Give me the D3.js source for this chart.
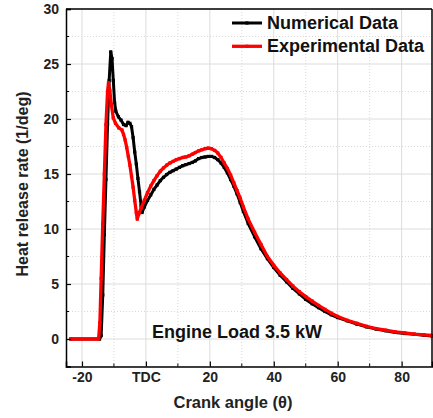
<!DOCTYPE html>
<html>
<head>
<meta charset="utf-8">
<script src="https://cdn.jsdelivr.net/npm/d3@7"></script>
<style>
  body { margin: 0; background: #fff; }
  text { font-family: "Liberation Sans", Arial, sans-serif; }
</style>
</head>
<body>
<div id="chart"></div>
<script>
// crank angle (deg) and heat release rate (1/deg)
const numTheta = [-23.5,-14.5,-14.0,-13.5,-13.0,-12.5,-12.0,-11.5,-11.0,-10.6,-10.2,-9.8,-9.4,-8.6,-7.8,-7.0,-6.2,-5.6,-5.0,-4.5,-4.0,-3.5,-3.0,-2.5,-2.0,-1.5,-1.2,-0.5,0.5,1.5,2.5,3.5,4.5,5.5,6.5,7.5,8.5,9.5,10.5,11.5,12.5,13.5,14.5,15.5,16.5,17.5,18.5,19.5,20.5,21.5,22.5,23.5,24.5,25.5,26.5,27.5,28.5,29.5,30.5,32,34,36,38,40,42,44,46,48,50,52,54,56,58,60,63,66,69,72,75,78,81,84,87,89.5];
const numHrr = [0,0,0.3,4.0,9.5,14.5,19.5,23.5,26.1,25.5,23.5,21.5,20.7,20.2,19.9,19.5,19.4,19.7,19.6,19.3,18.3,17.0,15.9,14.6,13.4,12.1,11.5,12.0,12.6,13.1,13.6,14.0,14.4,14.7,14.95,15.15,15.3,15.45,15.6,15.75,15.85,15.95,16.05,16.2,16.4,16.5,16.55,16.6,16.6,16.5,16.3,16.0,15.6,15.1,14.5,13.9,13.2,12.4,11.6,10.5,9.3,8.2,7.3,6.5,5.8,5.2,4.6,4.1,3.6,3.2,2.85,2.5,2.2,1.95,1.65,1.35,1.1,0.9,0.75,0.6,0.5,0.42,0.34,0.28];

const expTheta = [-23.5,-14.8,-14.4,-14.0,-13.5,-13.0,-12.5,-12.0,-11.7,-11.3,-10.8,-10.2,-9.5,-8.5,-7.5,-7.0,-6.5,-6.0,-5.5,-5.0,-4.5,-4.0,-3.5,-3.0,-2.7,-2.2,-1.5,-0.5,0.5,1.5,2.5,3.5,4.5,5.5,6.5,7.5,8.5,9.5,10.5,11.5,12.5,13.5,14.5,15.5,16.5,17.5,18.5,19.5,20.5,21.5,22.5,23.5,24.5,25.5,26.5,27.5,28.5,29.5,30.5,32,34,36,38,40,42,44,46,48,50,52,54,56,58,60,63,66,69,72,75,78,81,84,87,89.5];
const expHrr = [0,0,1.5,5.5,10.5,15.0,19.5,22.5,23.3,22.6,21.3,20.1,19.6,19.2,19.0,18.6,18.1,17.4,16.6,15.8,14.8,13.8,12.6,11.5,10.9,11.4,11.9,12.6,13.3,13.9,14.4,14.85,15.25,15.55,15.8,16.0,16.15,16.3,16.4,16.5,16.55,16.65,16.8,16.95,17.1,17.2,17.3,17.35,17.3,17.15,16.9,16.5,16.0,15.5,14.9,14.2,13.5,12.8,12.0,10.9,9.7,8.6,7.5,6.7,6.0,5.4,4.8,4.3,3.85,3.45,3.05,2.7,2.35,2.05,1.7,1.42,1.16,0.95,0.8,0.65,0.55,0.45,0.38,0.32];

const xTicks = [-20, 0, 20, 40, 60, 80];
const xTickLabels = ["-20", "TDC", "20", "40", "60", "80"];
const xMinor = [-10, 10, 30, 50, 70];
const yTicks = [0, 5, 10, 15, 20, 25, 30];
const yMinor = [-2.5, 2.5, 7.5, 12.5, 17.5, 22.5, 27.5];

const series = [
    {name: "Numerical Data", color: "#000", theta: numTheta, hrr: numHrr, width: 3},
    {name: "Experimental Data", color: "#ff0000", theta: expTheta, hrr: expHrr, width: 3.3}
];

const W = 433, H = 418;
const margin = {top: 9, right: 1, bottom: 51.5, left: 66},
    width = W - margin.left - margin.right,
    height = H - margin.top - margin.bottom;

const svg = d3.select("#chart").append("svg")
    .attr("width", W).attr("height", H)
  .append("g")
    .attr("transform", `translate(${margin.left},${margin.top})`);

const x = d3.scaleLinear().domain([-25, 89.5]).range([0, width]);
const y = d3.scaleLinear().domain([-2.5, 30]).range([height, 0]);

// grid: major solid, minor dotted
svg.append("g").selectAll("line").data(xTicks).join("line")
    .attr("x1", d => x(d)).attr("x2", d => x(d)).attr("y1", 0).attr("y2", height)
    .attr("stroke", "#dcdcdc").attr("stroke-width", 1);
svg.append("g").selectAll("line").data(xMinor).join("line")
    .attr("x1", d => x(d)).attr("x2", d => x(d)).attr("y1", 0).attr("y2", height)
    .attr("stroke", "#d8d8d8").attr("stroke-width", 1).attr("stroke-dasharray", "1,2");
svg.append("g").selectAll("line").data(yTicks).join("line")
    .attr("x1", 0).attr("x2", width).attr("y1", d => y(d)).attr("y2", d => y(d))
    .attr("stroke", "#dcdcdc").attr("stroke-width", 1);
svg.append("g").selectAll("line").data(yMinor).join("line")
    .attr("x1", 0).attr("x2", width).attr("y1", d => y(d)).attr("y2", d => y(d))
    .attr("stroke", "#d8d8d8").attr("stroke-width", 1).attr("stroke-dasharray", "1,2");

// lines
const line = d3.line().x(d => x(d[0])).y(d => y(d[1]));
series.forEach(s => {
    const pts = s.theta.map((t, i) => [t, s.hrr[i]]);
    svg.append("path")
        .datum(pts)
        .attr("fill", "none")
        .attr("stroke", s.color)
        .attr("stroke-width", s.width)
        .attr("stroke-linejoin", "round")
        .attr("d", line);
    svg.append("g").selectAll("rect").data(pts).join("rect")
        .attr("x", d => x(d[0]) - 1.6).attr("y", d => y(d[1]) - 1.6)
        .attr("width", 3.2).attr("height", 3.2)
        .attr("fill", s.color);
});

// axes with inward ticks
const fmtX = d => xTickLabels[xTicks.indexOf(d)];
const xAxis = svg.append("g").attr("transform", `translate(0,${height})`)
    .call(d3.axisBottom(x).tickValues(xTicks).tickFormat(fmtX).tickSize(-5).tickPadding(6));
xAxis.append("g").selectAll("line").data(xMinor).join("line")
    .attr("x1", d => x(d)).attr("x2", d => x(d)).attr("y1", 0).attr("y2", -3).attr("stroke", "#000");
const yAxis = svg.append("g")
    .call(d3.axisLeft(y).tickValues(yTicks).tickSize(-5).tickPadding(7));
yAxis.append("g").selectAll("line").data(yMinor).join("line")
    .attr("x1", 0).attr("x2", 3).attr("y1", d => y(d)).attr("y2", d => y(d)).attr("stroke", "#000");

[xAxis, yAxis].forEach(a => {
    a.select(".domain").attr("stroke-width", 1.5);
    a.selectAll(".tick line").attr("stroke-width", 1.2);
    a.selectAll("text")
        .attr("font-family", "'Liberation Sans', Arial, sans-serif")
        .attr("font-size", 14).attr("font-weight", "bold").attr("fill", "#222");
});

// frame top/right
svg.append("line").attr("x1", 0).attr("x2", width).attr("y1", 0).attr("y2", 0)
    .attr("stroke", "#000").attr("stroke-width", 1.5);
svg.append("line").attr("x1", width).attr("x2", width).attr("y1", 0).attr("y2", height)
    .attr("stroke", "#000").attr("stroke-width", 1.5);

// axis titles
svg.append("text")
    .attr("x", 167).attr("y", 399)
    .attr("text-anchor", "middle")
    .attr("font-size", 16.5).attr("font-weight", "bold").attr("fill", "#222")
    .text("Crank angle (θ)");
svg.append("text")
    .attr("transform", `translate(${28 - margin.left},${184 - margin.top}) rotate(-90)`)
    .attr("text-anchor", "middle")
    .attr("font-size", 16).attr("font-weight", "bold").attr("fill", "#222")
    .text("Heat release rate (1/deg)");

// annotation
svg.append("text")
    .attr("x", 152 - margin.left).attr("y", 337.5 - margin.top)
    .attr("font-size", 18).attr("font-weight", "bold").attr("fill", "#111")
    .text("Engine Load 3.5 kW");

// legend
const legend = svg.append("g").attr("transform", `translate(${232 - margin.left},${23 - margin.top})`);
series.forEach((s, i) => {
    const g = legend.append("g").attr("transform", `translate(0,${i * 23.3})`);
    g.append("line").attr("x1", 0).attr("x2", 30).attr("y1", 0).attr("y2", 0)
        .attr("stroke", s.color).attr("stroke-width", s.width);
    g.append("rect").attr("x", 13.4).attr("y", -1.6).attr("width", 3.2).attr("height", 3.2).attr("fill", s.color);
    g.append("text").attr("x", 35).attr("y", 6)
        .attr("font-size", 18).attr("font-weight", "bold").attr("fill", "#111")
        .text(s.name);
});
</script>
</body>
</html>
